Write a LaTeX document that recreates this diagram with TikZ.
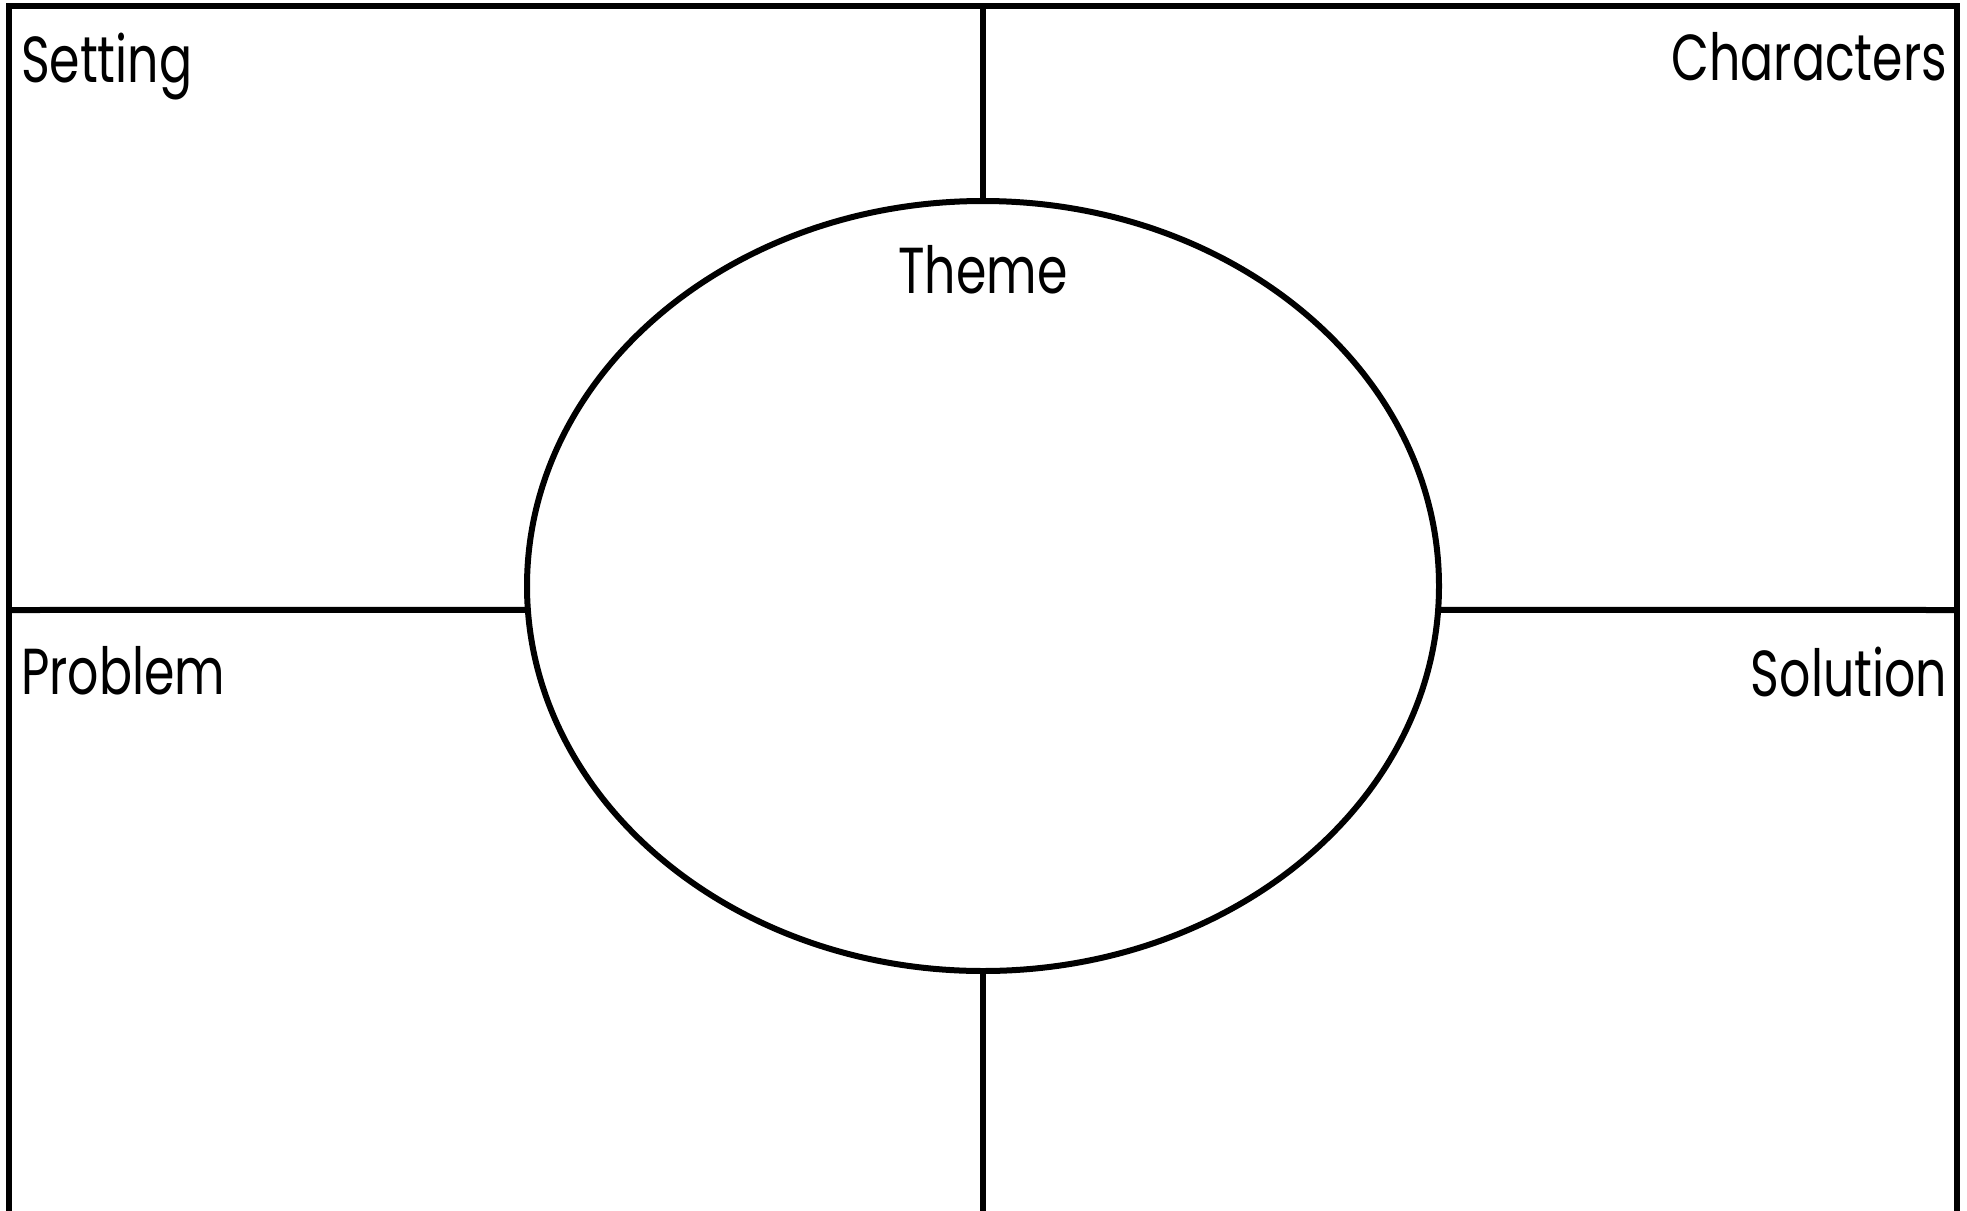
\documentclass[tikz,border=0pt]{standalone}
\usepackage{fontspec}
\setmainfont{Poppins}
\usetikzlibrary{shapes.geometric}
\newcommand{\tallword}[1]{\scalebox{0.98}[1.3]{#1}}
\begin{document}
\begin{tikzpicture}[x=1pt,y=-1pt,
  frame/.style={line width=6pt, line join=miter},
  lbl/.style={inner sep=0pt, outer sep=0pt, font=\fontsize{50}{60}\selectfont}]
\useasboundingbox (0,0) rectangle (1967,1210);
\clip (0,0) rectangle (1967,1210);
% corners and free ends
\coordinate (tl) at (9,6);
\coordinate (tr) at (1957,6);
\coordinate (bl) at (9,1230);
\coordinate (br) at (1957,1230);
\coordinate (topmid) at (983,6);
\coordinate (botmid) at (983,1230);
\coordinate (lmid) at (9,610);
\coordinate (rmid) at (1957,610);
% central ellipse
\node[ellipse, draw, frame, minimum width=912pt, minimum height=770pt, inner sep=0pt, outer sep=0pt] (theme) at (983,586) {};
% outer frame
\draw[frame] (bl) -- (tl) -- (tr) -- (br);
% dividers
\draw[frame] (topmid) -- (theme.north);
\draw[frame] (theme.south) -- (botmid);
\draw[frame] (lmid) -- (theme.183);
\draw[frame] (theme.-3) -- (rmid);
% labels
\node[lbl, anchor=base west] (setting) at (21,82) {\tallword{Setting}};
\node[lbl, anchor=base east] (characters) at (1947,80) {\tallword{Characters}};
\node[lbl, anchor=base] (themelbl) at (983,293) {\tallword{Theme}};
\node[lbl, anchor=base west] (problem) at (21,694) {\tallword{Problem}};
\node[lbl, anchor=base east] (solution) at (1947,696) {\tallword{Solution}};
\end{tikzpicture}
\end{document}
